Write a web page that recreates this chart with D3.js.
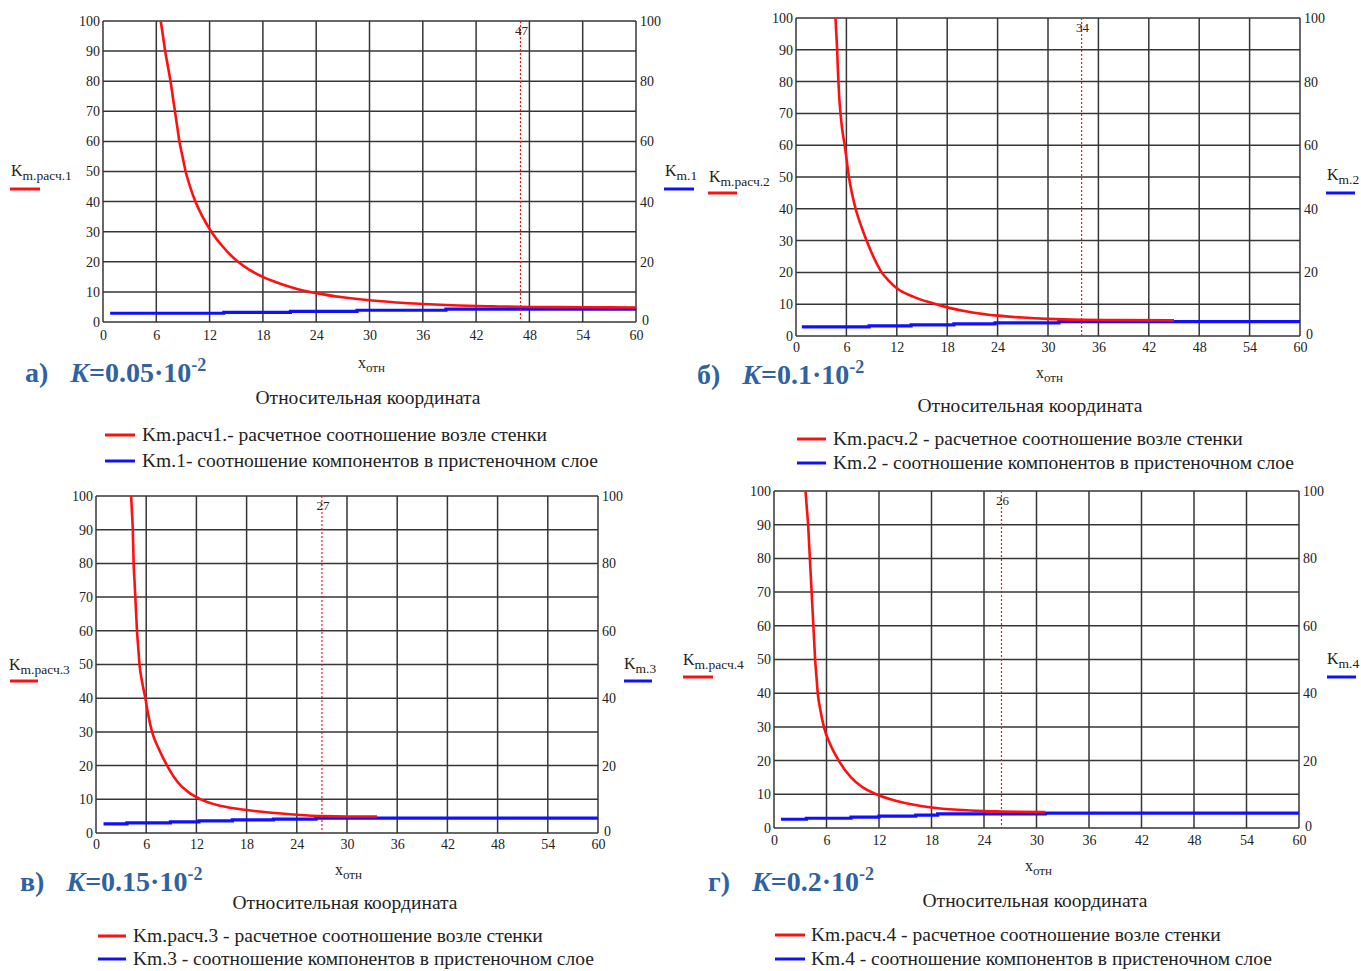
<!DOCTYPE html>
<html><head><meta charset="utf-8">
<script src="https://cdn.jsdelivr.net/npm/d3@7"></script>
<style>
body{margin:0;background:#fff}
svg{display:block}
text{font-family:"Liberation Serif","Times New Roman",serif;fill:#222}
</style>
</head><body>
<svg id="chart" width="1361" height="971"></svg>
<script>
// ---------- data ----------
const xTicks = [0, 6, 12, 18, 24, 30, 36, 42, 48, 54, 60];
const yTicksLeft = [0, 10, 20, 30, 40, 50, 60, 70, 80, 90, 100];
const yTicksRight = [0, 20, 40, 60, 80, 100];

const panelTags = ["а)", "б)", "в)", "г)"];
const kValues = ["0.05", "0.1", "0.15", "0.2"];
const markerX = [47, 34, 27, 26];
const leftAxisNames = ["m.расч.1", "m.расч.2", "m.расч.3", "m.расч.4"];
const rightAxisNames = ["m.1", "m.2", "m.3", "m.4"];
const legendRed = [
  "Km.расч1.- расчетное соотношение возле стенки",
  "Km.расч.2 - расчетное соотношение возле стенки",
  "Km.расч.3 - расчетное соотношение возле стенки",
  "Km.расч.4 - расчетное соотношение возле стенки"
];
const legendBlue = [
  "Km.1- соотношение компонентов в пристеночном слое",
  "Km.2 - соотношение компонентов в пристеночном слое",
  "Km.3 - соотношение компонентов в пристеночном слое",
  "Km.4 - соотношение компонентов в пристеночном слое"
];
const xAxisTitle = "Относительная координата";

// red curves (x, value)
const redA_x = [6.5, 6.75, 7.0, 7.3, 7.6, 7.85, 8.1, 8.35, 8.6, 8.95, 9.3, 9.8, 10.4, 11.2, 12.2, 13.5, 15.2, 16.4, 18, 19.5, 21, 22.5, 24, 27, 30, 33, 36, 40, 44, 48, 54, 60];
const redA_y = [100, 95, 90, 85, 80, 75, 70, 65, 60, 55, 50, 45, 40, 35, 30, 25, 20, 17.5, 15, 13.2, 11.7, 10.5, 9.6, 8.2, 7.2, 6.5, 6.0, 5.5, 5.2, 5.0, 4.9, 4.8];
const redB_x = [4.7, 4.8, 4.9, 4.97, 5.05, 5.15, 5.3, 5.5, 5.8, 6.05, 6.3, 6.65, 7.1, 7.7, 8.4, 9.2, 10.2, 11, 12, 14, 16, 18, 21, 24, 27, 30, 34, 38, 45];
const redB_y = [100, 95, 90, 85, 80, 75, 70, 65, 60, 55, 50, 45, 40, 35, 30, 25, 20, 17.5, 15, 12.3, 10.5, 9.0, 7.4, 6.4, 5.8, 5.4, 5.1, 5.0, 4.9];
const redC_x = [4.2, 4.3, 4.4, 4.45, 4.5, 4.6, 4.7, 4.8, 4.9, 5.05, 5.2, 5.5, 5.9, 6.25, 6.7, 7.5, 8.5, 9.8, 11, 12.5, 15, 18, 21, 24, 27, 30, 33.6];
const redC_y = [100, 95, 90, 85, 80, 75, 70, 65, 60, 55, 50, 45, 40, 35, 30, 25, 20, 15, 12.2, 10, 8, 6.8, 6.0, 5.4, 5.0, 4.9, 4.9];
const redD_x = [3.6, 3.75, 3.9, 4.0, 4.1, 4.2, 4.3, 4.4, 4.5, 4.6, 4.7, 4.85, 5.0, 5.3, 5.7, 6.4, 7.4, 8.8, 10, 11.7, 14, 16, 18, 21, 24, 26, 31];
const redD_y = [100, 95, 90, 85, 80, 75, 70, 65, 60, 55, 50, 45, 40, 35, 30, 25, 20, 15, 12.3, 10, 8, 6.9, 6.1, 5.4, 5.0, 4.9, 4.7];

// blue step series (step start x, value)
const blueA_x = [0.8, 13.6, 21.1, 28.6, 38.6, 60];
const blueA_y = [2.9, 3.2, 3.5, 3.9, 4.3, 4.3];
const blueB_x = [0.7, 8.7, 13.7, 18.8, 23.7, 31.3, 60];
const blueB_y = [2.9, 3.2, 3.5, 3.8, 4.1, 4.5, 4.5];
const blueC_x = [0.9, 3.7, 8.9, 12.3, 16.3, 21.2, 26.3, 60];
const blueC_y = [2.7, 3.0, 3.3, 3.6, 3.9, 4.1, 4.4, 4.4];
const blueD_x = [0.8, 3.7, 8.8, 12, 16.2, 18.7, 31, 60];
const blueD_y = [2.6, 2.9, 3.2, 3.5, 3.8, 4.2, 4.4, 4.4];

const redX = [redA_x, redB_x, redC_x, redD_x];
const redY = [redA_y, redB_y, redC_y, redD_y];
const blueX = [blueA_x, blueB_x, blueC_x, blueD_x];
const blueY = [blueA_y, blueB_y, blueC_y, blueD_y];

// ---------- layout ----------
const layouts = [
  {L:103, R:636, T:21, B:322, xpad:8,
   lk:{x:11, y:176, lx:[10,40], ly:189}, rk:{x:665, y:176, lx:[664,694], ly:189},
   xl:{x:358, y:368}, tt:{x:368, y:404}, lg:{lx:[105,135], y:[435,461], tx:142},
   tag:{x:25, y:382}},
  {L:796, R:1300, T:18, B:336, xpad:6,
   lk:{x:709, y:182, lx:[708,737], ly:193}, rk:{x:1327, y:180, lx:[1326,1355], ly:193},
   xl:{x:1036, y:378}, tt:{x:1030, y:412}, lg:{lx:[797,826], y:[439,463], tx:833},
   tag:{x:697, y:384}},
  {L:96, R:598, T:496, B:833, xpad:6,
   lk:{x:9, y:670, lx:[10,38], ly:681}, rk:{x:624, y:669, lx:[624,652], ly:681},
   xl:{x:335, y:875}, tt:{x:345, y:909}, lg:{lx:[98,126], y:[936,959], tx:133},
   tag:{x:20, y:891}},
  {L:774, R:1299, T:491, B:828, xpad:7,
   lk:{x:683, y:665, lx:[683,713], ly:677}, rk:{x:1327, y:664, lx:[1327,1356], ly:677},
   xl:{x:1025, y:871}, tt:{x:1035, y:907}, lg:{lx:[775,805], y:[935,959], tx:811},
   tag:{x:708, y:891}}
];

const RED = "#ff1010", BLUE = "#1010ff", GRID = "#363636", TAGC = "#2f62a0";
const svg = d3.select("#chart");

layouts.forEach((lo, i) => {
  const g = svg.append("g");
  const x = d3.scaleLinear().domain([0, 60]).range([lo.L, lo.R]);
  const y = d3.scaleLinear().domain([0, 100]).range([lo.B, lo.T]);

  // grid
  g.append("g").selectAll("line").data(xTicks).join("line")
    .attr("x1", d => x(d)).attr("x2", d => x(d)).attr("y1", lo.T).attr("y2", lo.B)
    .attr("stroke", GRID).attr("stroke-width", 1.5);
  g.append("g").selectAll("line").data(yTicksLeft).join("line")
    .attr("x1", lo.L).attr("x2", lo.R).attr("y1", d => y(d)).attr("y2", d => y(d))
    .attr("stroke", GRID).attr("stroke-width", 1.5);

  // axes (labels only)
  const ax = g.append("g").attr("transform", `translate(0,${lo.B})`)
    .call(d3.axisBottom(x).tickValues(xTicks).tickSize(0).tickPadding(lo.xpad).tickFormat(d3.format("d")));
  const ay = g.append("g").attr("transform", `translate(${lo.L},0)`)
    .call(d3.axisLeft(y).tickValues(yTicksLeft).tickSize(0).tickPadding(3).tickFormat(d3.format("d")));
  const ay2 = g.append("g").attr("transform", `translate(${lo.R},0)`)
    .call(d3.axisRight(y).tickValues(yTicksRight).tickSize(0).tickPadding(4).tickFormat(d3.format("d")));
  [ax, ay, ay2].forEach(a => {
    a.select(".domain").remove();
    a.selectAll("text").attr("font-family", "Liberation Serif").attr("font-size", 14).attr("fill", "#222");
  });
  ay2.selectAll(".tick").filter(d => d === 0).select("text").attr("dy", "0.2em").attr("x", 6);

  // blue step line
  const bdata = blueX[i].map((v, k) => [v, blueY[i][k]]);
  g.append("path").datum(bdata)
    .attr("d", d3.line().x(d => x(d[0])).y(d => y(d[1])).curve(d3.curveStepAfter))
    .attr("fill", "none").attr("stroke", BLUE).attr("stroke-width", 3.2);

  // red curve
  const rdata = redX[i].map((v, k) => [v, redY[i][k]]);
  g.append("path").datum(rdata)
    .attr("d", d3.line().x(d => x(d[0])).y(d => y(d[1])).curve(d3.curveMonotoneX))
    .attr("fill", "none").attr("stroke", RED).attr("stroke-width", 2.6);

  // marker
  g.append("line").attr("x1", x(markerX[i])).attr("x2", x(markerX[i]))
    .attr("y1", lo.T).attr("y2", lo.B)
    .attr("stroke", RED).attr("stroke-width", 1.2).attr("stroke-dasharray", "2,2");
  g.append("text").attr("x", x(markerX[i]) + 1).attr("y", lo.T + 14)
    .attr("text-anchor", "middle").attr("font-size", 13).text(markerX[i]);

  // axis variable labels
  const lt = g.append("text").attr("x", lo.lk.x).attr("y", lo.lk.y).attr("font-size", 16);
  lt.append("tspan").text("K");
  lt.append("tspan").attr("dy", 4).attr("font-size", 13.5).text(leftAxisNames[i]);
  g.append("line").attr("x1", lo.lk.lx[0]).attr("x2", lo.lk.lx[1]).attr("y1", lo.lk.ly).attr("y2", lo.lk.ly)
    .attr("stroke", RED).attr("stroke-width", 3);
  const rt = g.append("text").attr("x", lo.rk.x).attr("y", lo.rk.y).attr("font-size", 16);
  rt.append("tspan").text("K");
  rt.append("tspan").attr("dy", 4).attr("font-size", 13.5).text(rightAxisNames[i]);
  g.append("line").attr("x1", lo.rk.lx[0]).attr("x2", lo.rk.lx[1]).attr("y1", lo.rk.ly).attr("y2", lo.rk.ly)
    .attr("stroke", BLUE).attr("stroke-width", 3);

  // x label
  const xt = g.append("text").attr("x", lo.xl.x).attr("y", lo.xl.y).attr("font-size", 16);
  xt.append("tspan").text("x");
  xt.append("tspan").attr("dy", 4).attr("font-size", 13).text("отн");

  // title
  g.append("text").attr("x", lo.tt.x).attr("y", lo.tt.y).attr("text-anchor", "middle")
    .attr("font-size", 19.5).text(xAxisTitle);

  // legend
  [[RED, legendRed[i]], [BLUE, legendBlue[i]]].forEach((it, k) => {
    g.append("line").attr("x1", lo.lg.lx[0]).attr("x2", lo.lg.lx[1])
      .attr("y1", lo.lg.y[k]).attr("y2", lo.lg.y[k]).attr("stroke", it[0]).attr("stroke-width", 3);
    g.append("text").attr("x", lo.lg.tx).attr("y", lo.lg.y[k] + 6).attr("font-size", 19.5).text(it[1]);
  });

  // panel tag
  const tg = g.append("text").attr("x", lo.tag.x).attr("y", lo.tag.y)
    .attr("font-size", 28).attr("font-weight", "bold").style("fill", TAGC);
  tg.append("tspan").text(panelTags[i]);
  tg.append("tspan").attr("dx", 22).attr("font-style", "italic").text("K");
  tg.append("tspan").text("=" + kValues[i] + "·10");
  tg.append("tspan").attr("dy", -11).attr("font-size", 18).text("-2");
});
</script>
</body></html>
